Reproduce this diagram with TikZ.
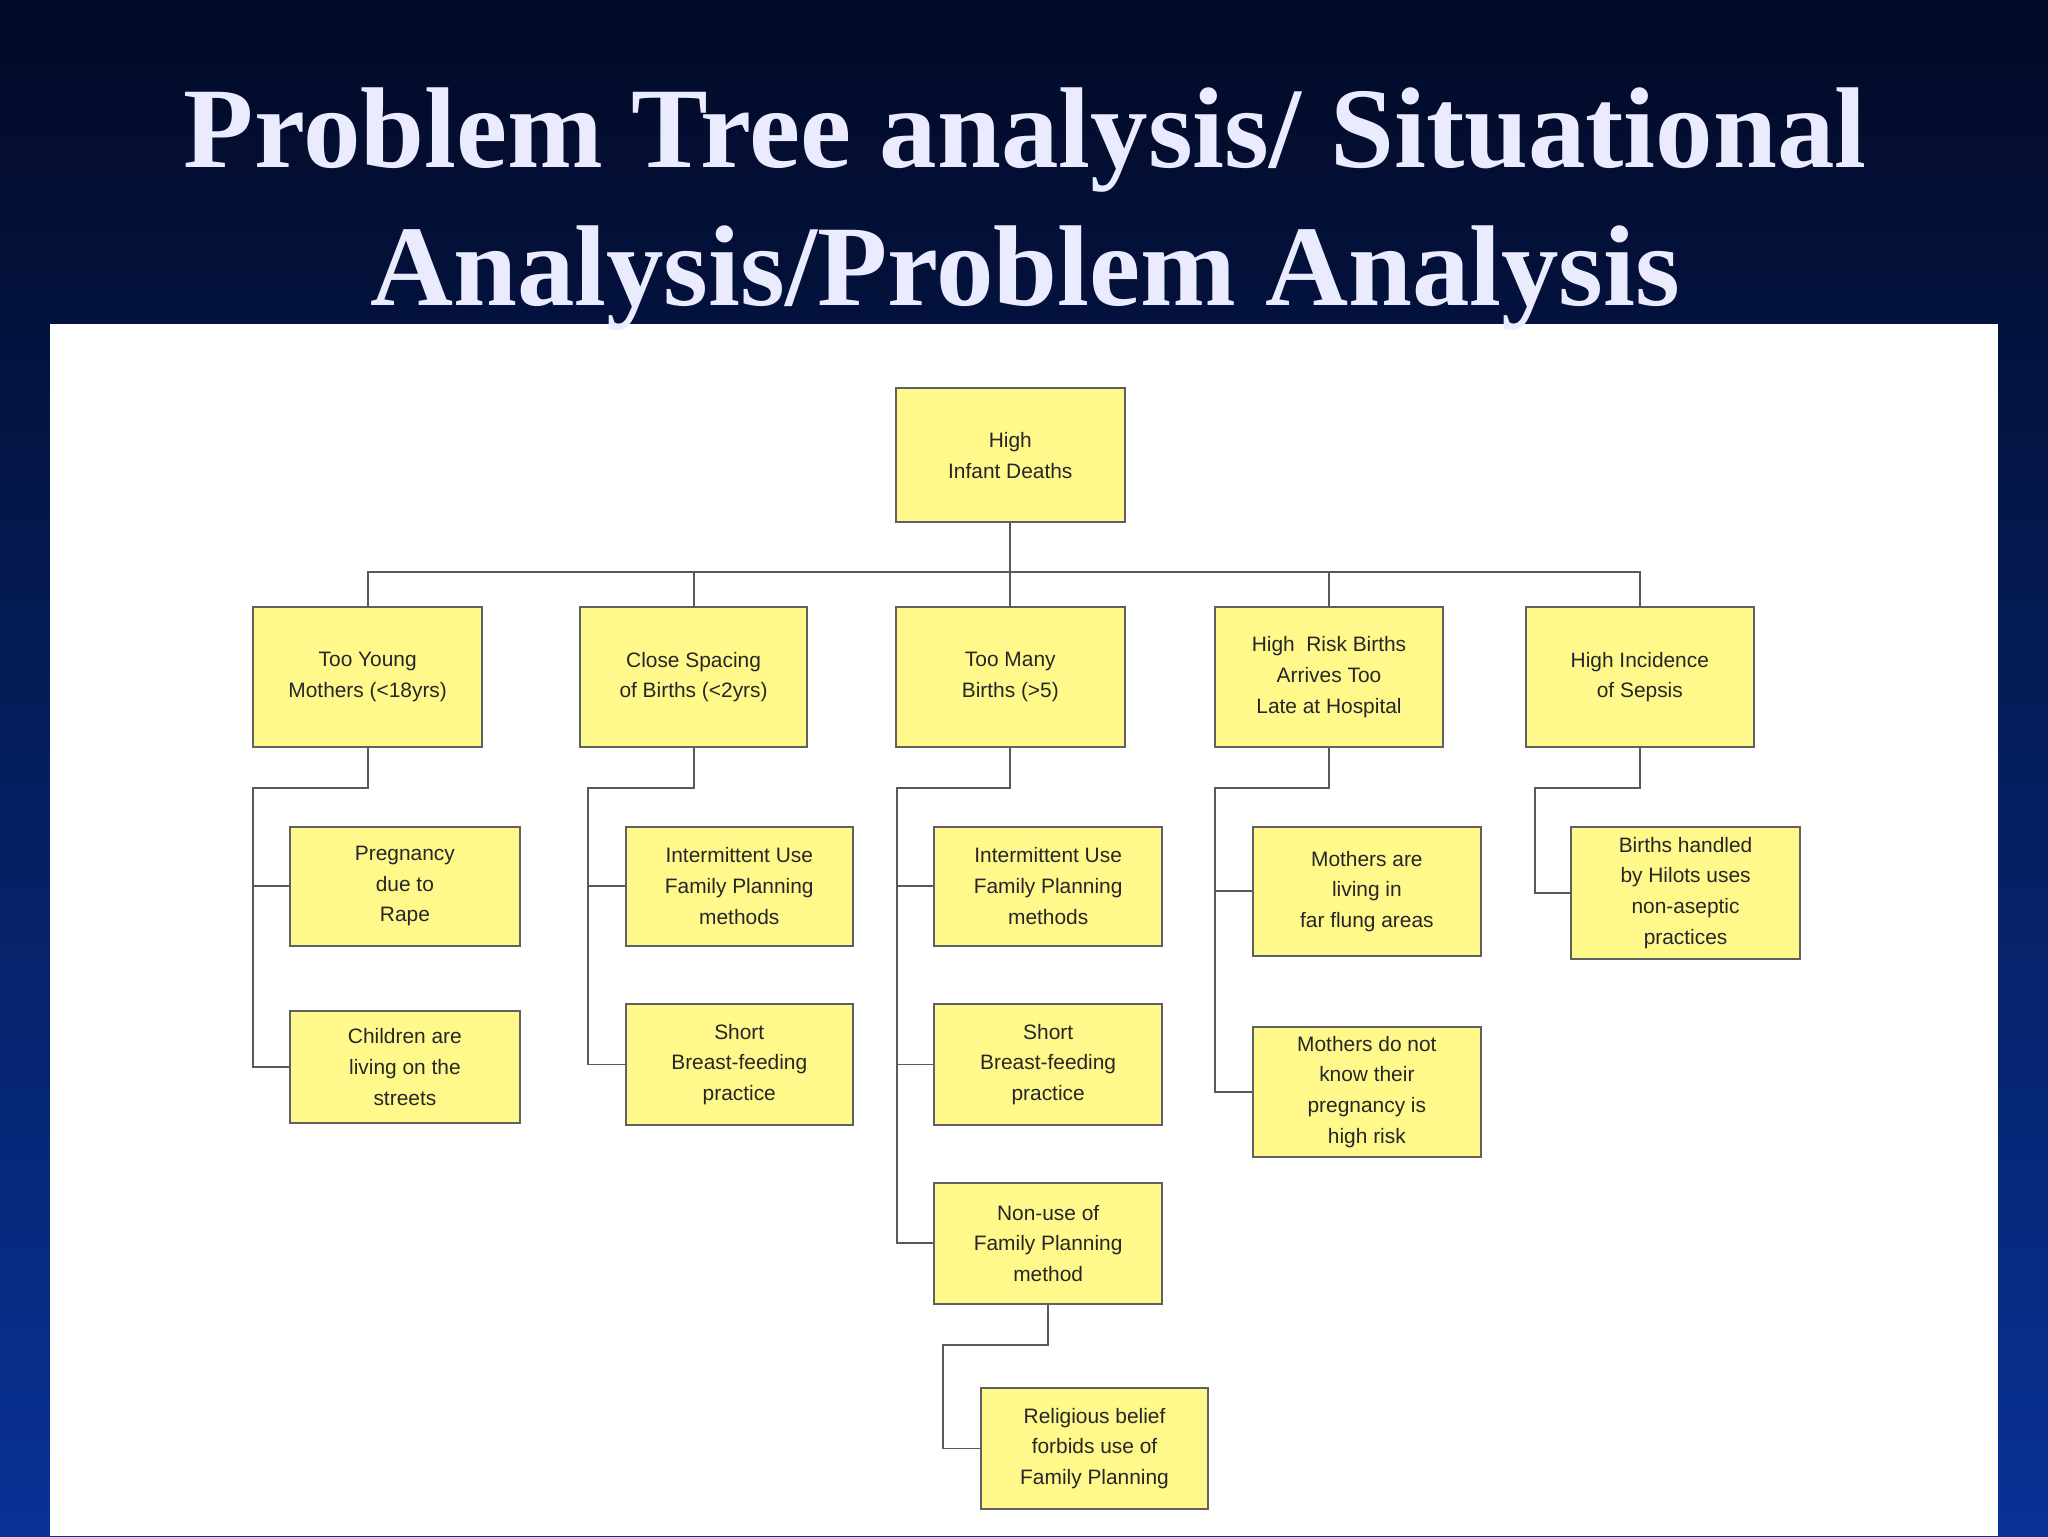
\documentclass[tikz,border=0pt]{standalone}
\usepackage{fontspec}
\setmainfont{Liberation Serif}
\setsansfont{Liberation Sans}
\begin{document}
\begin{tikzpicture}[x=1pt,y=-1pt,
  box/.style={draw=gray!75!black,line width=1.5pt,fill=yellow!45!white,align=center,
    font=\sffamily\fontsize{16}{23.5}\selectfont,text=black!85,inner sep=2pt},
  wire/.style={draw=gray!70!black,line width=1.5pt}]
\shade[top color={rgb,255:red,2;green,10;blue,38},bottom color={rgb,255:red,8;green,50;blue,150}] (0,0) rectangle (1568,1176);
\fill[white] (38,248) rectangle (1530,1176);
\node[text=white!92!blue,font=\bfseries\fontsize{88}{105}\selectfont,align=center] (title) at (785,160) {Problem Tree analysis/ Situational\\Analysis/Problem Analysis};
\coordinate (bus) at (0,438);
\coordinate (lv) at (0,603);
\coordinate (ta) at (194,0);
\coordinate (tb) at (450,0);
\coordinate (tc) at (687,0);
\coordinate (td) at (930,0);
\coordinate (te) at (1175,0);
\coordinate (tf) at (722,0);
% boxes
\newcommand{\bx}[6]{\node[box,minimum width=#4-#2,minimum height=#5-#3] (#1) at ({(#2+#4)/2},{(#3+#5)/2}) {#6};}
\bx{top}{686}{297}{861}{400}{High\\Infant Deaths}
\bx{a}{194}{465}{369}{572}{Too Young\\Mothers (<18yrs)}
\bx{b}{444}{465}{618}{572}{Close Spacing\\of Births (<2yrs)}
\bx{c}{686}{465}{861}{572}{Too Many\\Births (>5)}
\bx{d}{930}{465}{1105}{572}{High\ \ Risk Births\\Arrives Too\\Late at Hospital}
\bx{e}{1168}{465}{1343}{572}{High Incidence\\of Sepsis}
\bx{a1}{222}{633}{398}{724}{Pregnancy\\due to\\Rape}
\bx{a2}{222}{774}{398}{860}{Children are\\living on the\\streets}
\bx{b1}{479}{633}{653}{724}{Intermittent Use\\Family Planning\\methods}
\bx{b2}{479}{769}{653}{861}{Short\\Breast-feeding\\practice}
\bx{c1}{715}{633}{890}{724}{Intermittent Use\\Family Planning\\methods}
\bx{c2}{715}{769}{890}{861}{Short\\Breast-feeding\\practice}
\bx{c3}{715}{906}{890}{998}{Non-use of\\Family Planning\\method}
\bx{c4}{751}{1063}{925}{1155}{Religious belief\\forbids use of\\Family Planning}
\bx{d1}{959}{633}{1134}{732}{Mothers are\\living in\\far flung areas}
\bx{d2}{959}{786}{1134}{886}{Mothers do not\\know their\\pregnancy is\\high risk}
\bx{e1}{1203}{633}{1378}{734}{Births handled\\by Hilots uses\\non-aseptic\\practices}
% connectors
\draw[wire] (top.south) -- (top.south |- bus);
\draw[wire] (a.north) |- (e.north |- bus) -- (e.north);
\draw[wire] (b.north) -- (b.north |- bus);
\draw[wire] (c.north) -- (c.north |- bus);
\draw[wire] (d.north) -- (d.north |- bus);
\draw[wire] (a.south) -- (a.south |- lv) -| (ta |- a2.west) -- (a2.west);
\draw[wire] (ta |- a1.west) -- (a1.west);
\draw[wire] (b.south) -- (b.south |- lv) -| (tb |- b2.west) -- (b2.west);
\draw[wire] (tb |- b1.west) -- (b1.west);
\draw[wire] (c.south) -- (c.south |- lv) -| (tc |- c3.west) -- (c3.west);
\draw[wire] (tc |- c1.west) -- (c1.west);
\draw[wire] (tc |- c2.west) -- (c2.west);
\draw[wire] (c3.south) |- (722,1030) -- (tf |- c4.west) -- (c4.west);
\draw[wire] (d.south) -- (d.south |- lv) -| (td |- d2.west) -- (d2.west);
\draw[wire] (td |- d1.west) -- (d1.west);
\draw[wire] (e.south) -- (e.south |- lv) -| (te |- e1.west) -- (e1.west);
\end{tikzpicture}
\end{document}
